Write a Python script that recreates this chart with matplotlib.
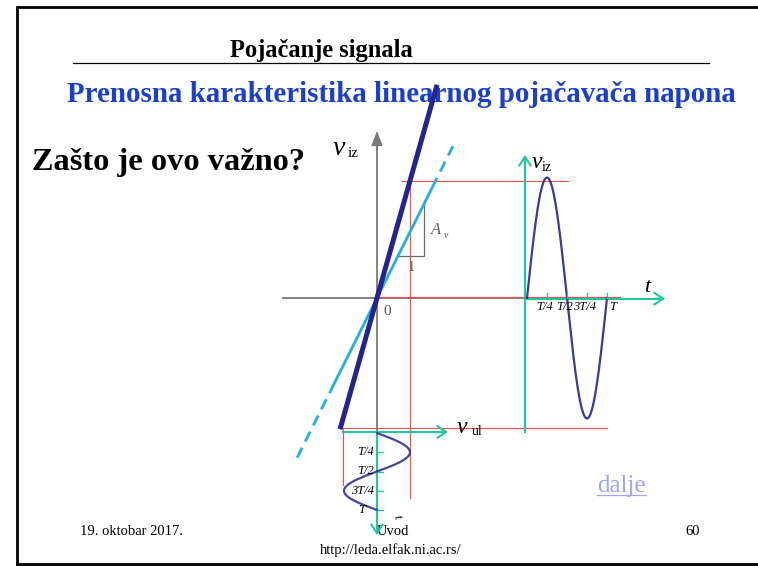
import numpy as np
import matplotlib
matplotlib.use("Agg")
import matplotlib.pyplot as plt
from matplotlib.patches import FancyArrowPatch

# ---- diagram values -------------------------------------------------------
gain_main = 3.55          # slope of the amplifier transfer characteristic
gain_ref = 2.0            # slope of the reference (dashed-end) characteristic
in_amp = 1.0              # input sine amplitude v_ul
out_amp = 3.65            # output sine amplitude v_iz
out_hi, out_lo = 3.55, -3.95   # output extremes marked by guide lines
in_hi, in_lo = 1.0, -1.03      # input extremes marked by guide lines
main_span = [-1.12, 1.82]       # v_ul range of the main characteristic
ref_solid = [-1.42, 1.67]       # solid part of the reference characteristic
ref_dashed = [[-2.42, -1.42], [1.67, 2.3]]
slope_base = [0.64, 1.42]       # unit step of the slope triangle
tick_phases = [0.25, 0.5, 0.75, 1.0]
tick_labels = ["T/4", "T/2", "3T/4", "T"]

title_small = "Pojačanje signala"
title_main = "Prenosna karakteristika linearnog pojačavača napona"
question = "Zašto je ovo važno?"
footer_date = "19. oktobar 2017."
footer_mid = "Uvod"
footer_page = "60"
footer_url = "http://leda.elfak.ni.ac.rs/"
link_text = "dalje"

# ---- styling ---------------------------------------------------------------
SERIF = ["Liberation Serif", "DejaVu Serif"]
NAVY = "#25248f"
CYAN = "#1fb2de"
RED = "#ff4a4a"
GREEN = "#1fc89c"
GRAY = "#7a7a7a"
BLUE = "#1a3fcc"

W, H = 758, 566
fig = plt.figure(figsize=(W / 100, H / 100), dpi=100)
renderer = fig.canvas.get_renderer()

# page axes in pixel coordinates
page = fig.add_axes([0, 0, 1, 1])
page.set_xlim(0, W)
page.set_ylim(H, 0)
page.axis("off")


def fit(ax, x0, x1, y, s, **kw):
    t = ax.text((x0 + x1) / 2, y, s, ha="center", va="baseline", **kw)
    w = t.get_window_extent(renderer).width
    t.set_fontsize(t.get_fontsize() * (x1 - x0) / w)
    return t


def place(px_l, px_r, px_t, px_b):
    ax = fig.add_axes([px_l / W, 1 - px_b / H, (px_r - px_l) / W, (px_b - px_t) / H])
    ax.axis("off")
    ax.patch.set_alpha(0)
    return ax


def arrow(ax, p0, p1, color, lw, style, ms):
    ax.add_patch(FancyArrowPatch(p0, p1, arrowstyle=style, mutation_scale=ms,
                                 color=color, lw=lw, shrinkA=0, shrinkB=0,
                                 clip_on=False))


# slide frame and header
page.plot([17, 17, 770], [564, 7, 7], color="black", lw=2.0, solid_joinstyle="miter")
page.plot([17, 770], [564, 564], color="black", lw=2.0)
page.plot([73, 709], [63, 63], color="black", lw=0.9)

fit(page, 229, 413, 57, title_small, family=SERIF, fontweight="bold", color="black", fontsize=14)
fit(page, 67, 736, 102, title_main, family=SERIF, fontweight="bold", color=BLUE, fontsize=20)
fit(page, 33, 305, 170, question, family=SERIF, fontweight="bold", color="black", fontsize=18)
fit(page, 597, 646, 492, link_text, family=SERIF, color="#a4a4f0", fontsize=15)
page.plot([597, 646], [495, 495], color="#a4a4f0", lw=0.9)

date = fit(page, 80, 183, 535, footer_date, family=SERIF, color="black", fontsize=10)
page.text(377, 535, footer_mid, family=SERIF, color="black", fontsize=date.get_fontsize(),
          ha="left", va="baseline")
page.text(693, 535, footer_page, family=SERIF, color="black", fontsize=date.get_fontsize(),
          ha="center", va="baseline")
fit(page, 319, 462, 554, footer_url, family=SERIF, color="black", fontsize=9)

# ---- transfer characteristic: v_iz versus v_ul -----------------------------
S = 33.0                  # pixels per volt
X0, Y0 = 377, 298         # origin of the characteristic
L, R, T, B = 240, 720, 70, 545
tr = place(L, R, T, B)
tr.set_xlim((L - X0) / S, (R - X0) / S)
tr.set_ylim((Y0 - B) / S, (Y0 - T) / S)

# gray coordinate axes
tr.plot([(283 - X0) / S, (525 - X0) / S], [0, 0], color=GRAY, lw=1.3)
tr.plot([0, 0], [(Y0 - 433) / S, (Y0 - 145) / S], color=GRAY, lw=1.3)
arrow(tr, (0, (Y0 - 150) / S), (0, (Y0 - 131) / S), GRAY, 1.0, "-|>,head_length=0.9,head_width=0.35", 10)

# red guide lines
tr.plot([0, (620 - X0) / S], [0.04, 0.04], color=RED, lw=0.8)
tr.plot([(402 - X0) / S, (568 - X0) / S], [out_hi, out_hi], color=RED, lw=0.8)
tr.plot([in_hi, in_hi], [out_hi, (Y0 - 498) / S], color=RED, lw=0.8)
tr.plot([(338 - X0) / S, (607 - X0) / S], [out_lo, out_lo], color=RED, lw=0.8)
tr.plot([in_lo, in_lo], [out_lo, (Y0 - 485) / S], color=RED, lw=0.8)

# slope triangle
tr.plot([slope_base[0], slope_base[1], slope_base[1]],
        [gain_ref * slope_base[0], gain_ref * slope_base[0], gain_ref * slope_base[1]],
        color="#6a6a6a", lw=0.9)
tr.text(sum(slope_base) / 2 + 0.02, gain_ref * slope_base[0] - 0.15, "1", family=SERIF,
        color="#555555", fontsize=10, ha="center", va="top")
tr.text(slope_base[1] + 0.22, (gain_ref * slope_base[0] + gain_ref * slope_base[1]) / 2,
        "A", family=SERIF, style="italic", color="#666666", fontsize=12, ha="left", va="center")
tr.text(slope_base[1] + 0.60, (gain_ref * slope_base[0] + gain_ref * slope_base[1]) / 2 - 0.18,
        "v", family=SERIF, style="italic", color="#666666", fontsize=7, ha="left", va="center")

# reference characteristic (cyan)
xs = np.array(ref_solid)
tr.plot(xs, gain_ref * xs, color=CYAN, lw=2.0, solid_capstyle="butt")
for seg in ref_dashed:
    xs = np.array(seg)
    tr.plot(xs, gain_ref * xs, color=CYAN, lw=2.0, ls=(0, (4, 2.5)), dash_capstyle="butt")

# amplifier characteristic (navy)
xs = np.array(main_span)
tr.plot(xs, gain_main * xs, color=NAVY, lw=3.6, solid_capstyle="butt")

tr.text(0.2, -0.2, "0", family=SERIF, color="#555555", fontsize=11, ha="left", va="top")
tr.text((333 - X0) / S, (Y0 - 145) / S, "v", family=SERIF, style="italic",
        fontsize=20, ha="left", va="center_baseline")
tr.text((348 - X0) / S, (Y0 - 152) / S, "iz", family=SERIF, fontsize=11,
        ha="left", va="center_baseline")

# ---- output signal v_iz(t) --------------------------------------------------
TP_OUT = 80.0             # pixels per period
T0_OUT = 527
oL, oR = 500, 700
out = place(oL, oR, T, B)
out.set_xlim((oL - T0_OUT) / TP_OUT, (oR - T0_OUT) / TP_OUT)
out.set_ylim((Y0 - B) / S, (Y0 - T) / S)

t_ax = (525 - T0_OUT) / TP_OUT
out.plot([t_ax, t_ax], [(Y0 - 432) / S, (Y0 - 160) / S], color=GREEN, lw=1.5)
arrow(out, (t_ax, (Y0 - 165) / S), (t_ax, (Y0 - 155) / S), GREEN, 1.5,
      "->,head_length=0.45,head_width=0.3", 14)
out.plot([t_ax, (660 - T0_OUT) / TP_OUT], [-0.02, -0.02], color=GREEN, lw=1.5)
arrow(out, ((655 - T0_OUT) / TP_OUT, -0.02), ((665 - T0_OUT) / TP_OUT, -0.02), GREEN, 1.5,
      "->,head_length=0.45,head_width=0.3", 14)

tt = np.linspace(0, 1, 300)
out.plot(tt, out_amp * np.sin(2 * np.pi * tt), color=NAVY, lw=1.6, alpha=0.9)
for ph, lab in zip(tick_phases, tick_labels):
    out.plot([ph, ph], [0, 0.16], color=GREEN, lw=0.9)
    out.text(ph - 0.03 if lab != "T" else ph + 0.07, -0.26, lab, family=SERIF, style="italic",
             fontsize=9, ha="center", va="center")
out.text((647 - T0_OUT) / TP_OUT, (Y0 - 287) / S, "t", family=SERIF, style="italic",
         fontsize=16, ha="center", va="center")
out.text((532 - T0_OUT) / TP_OUT, (Y0 - 160) / S, "v", family=SERIF, style="italic",
         fontsize=17, ha="left", va="center_baseline")
out.text((542 - T0_OUT) / TP_OUT, (Y0 - 166) / S, "iz", family=SERIF, fontsize=10,
         ha="left", va="center_baseline")

# ---- input signal v_ul(t), time running downwards ---------------------------
TP_IN = 77.0
T0_IN = 433
iT, iB = 410, 545
inp = place(L, R, iT, iB)
inp.set_xlim((L - X0) / S, (R - X0) / S)
inp.set_ylim((iB - T0_IN) / TP_IN, (iT - T0_IN) / TP_IN)

t_top = (432 - T0_IN) / TP_IN
inp.plot([(343 - X0) / S, (440 - X0) / S], [t_top, t_top], color=GREEN, lw=1.5)
arrow(inp, ((438 - X0) / S, t_top), ((448 - X0) / S, t_top), GREEN, 1.5,
      "->,head_length=0.45,head_width=0.3", 14)
inp.plot([0, 0], [t_top, (528 - T0_IN) / TP_IN], color=GREEN, lw=1.5)
arrow(inp, (0, (525 - T0_IN) / TP_IN), (0, (535 - T0_IN) / TP_IN), GREEN, 1.5,
      "->,head_length=0.45,head_width=0.3", 14)

inp.plot(in_amp * np.sin(2 * np.pi * tt), tt, color=NAVY, lw=1.6, alpha=0.85)
for ph, lab in zip(tick_phases, tick_labels):
    inp.plot([0, 0.18], [ph, ph], color=GREEN, lw=0.9)
    inp.text(-0.1 if lab != "T" else -0.45, ph, lab, family=SERIF, style="italic",
             fontsize=9, ha="right" if lab != "T" else "center", va="center")
inp.text((457 - X0) / S, (425 - T0_IN) / TP_IN, "v", family=SERIF, style="italic",
         fontsize=17, ha="left", va="center_baseline")
inp.text((472 - X0) / S, (430 - T0_IN) / TP_IN, "ul", family=SERIF, fontsize=10,
         ha="left", va="center_baseline")
inp.text((397 - X0) / S, (517 - T0_IN) / TP_IN, "t", family=SERIF, style="italic",
         fontsize=9, rotation=-75, ha="center", va="center")

fig.savefig("out.png", dpi=100)
